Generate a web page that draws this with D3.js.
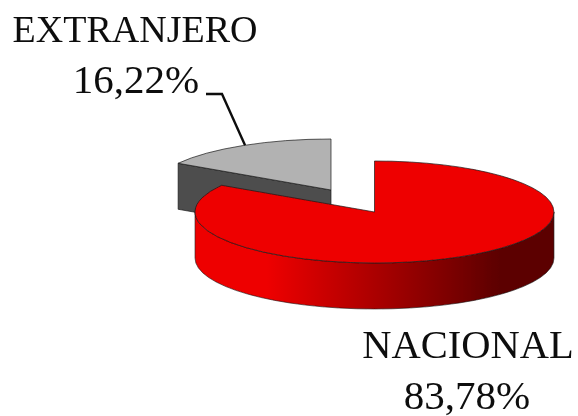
<!DOCTYPE html>
<html><head><meta charset="utf-8">
<script src="https://cdn.jsdelivr.net/npm/d3@7/dist/d3.min.js"></script>
<style>html,body{margin:0;padding:0;background:#fff}svg{display:block}
text{font-family:"Liberation Serif",serif;fill:#111}</style></head>
<body><div id="c"></div>
<script>
const categories = ["NACIONAL", "EXTRANJERO"];
const values = [83.78, 16.22];
const valueLabels = ["83,78%", "16,22%"];
const colors = ["#ee0000", "#b2b2b2"];
const wallColors = ["#ee0000", "#4d4d4d"];

const W = 578, H = 416;
const rx = 179.5, ry = 51, depth = 46;
const centers = [[374.5, 212], [331, 190]];

const svg = d3.select("#c").append("svg").attr("width", W).attr("height", H);
const defs = svg.append("defs");
defs.append("filter").attr("id", "soft").attr("x", "-5%").attr("y", "-5%").attr("width", "110%").attr("height", "110%")
  .append("feGaussianBlur").attr("stdDeviation", 0.45);
const grad = defs.append("linearGradient").attr("id", "side");
[[0, "#ee0000"], [0.2, "#ee0000"], [0.55, "#a00000"], [0.85, "#5c0000"], [1, "#5c0000"]]
  .forEach(([o, c]) => grad.append("stop").attr("offset", o).attr("stop-color", c));

const root = svg.append("g").attr("filter", "url(#soft)");

// clockwise from 12 o'clock, NACIONAL first
const arcs = d3.pie().sort(null).value(d => d)(values);
const pt = (i, a, dy = 0) => [centers[i][0] + rx * Math.sin(a), centers[i][1] - ry * Math.cos(a) + dy];
const A = (a, b) => `A${rx},${ry} 0 ${Math.abs(b - a) > Math.PI ? 1 : 0} ${b > a ? 1 : 0} `;

const line = "#1a1a1a";

// EXTRANJERO: cut wall, then top
{
  const d = arcs[1], c = centers[1];
  const tip = pt(1, d.startAngle);
  root.append("path")
    .attr("d", `M${tip}L${c}L${c[0]},${c[1] + depth}L${tip[0]},${tip[1] + depth}Z`)
    .attr("fill", wallColors[1]).attr("stroke", line).attr("stroke-width", 0.7);
  root.append("path")
    .attr("d", `M${c}L${tip}${A(d.startAngle, d.endAngle)}${pt(1, d.endAngle)}Z`)
    .attr("fill", colors[1]).attr("stroke", line).attr("stroke-width", 0.7);
}

// NACIONAL: outer wall (front half), then top
{
  const d = arcs[0], c = centers[0];
  const a0 = Math.PI / 2, a1 = 3 * Math.PI / 2;
  root.append("path")
    .attr("d", `M${pt(0, a0)}${A(a0, a1)}${pt(0, a1)}L${pt(0, a1, depth)}${A(a1, a0)}${pt(0, a0, depth)}Z`)
    .attr("fill", "url(#side)").attr("stroke", line).attr("stroke-width", 0.6);
  const mid = d.startAngle + Math.PI;
  root.append("path")
    .attr("d", `M${c}L${pt(0, d.startAngle)}${A(d.startAngle, mid)}${pt(0, mid)}${A(mid, d.endAngle)}${pt(0, d.endAngle)}Z`)
    .attr("fill", colors[0]).attr("stroke", line).attr("stroke-width", 0.7);
}

// Leader line for EXTRANJERO
const leadEnd = pt(1, arcs[1].startAngle + (arcs[1].endAngle - arcs[1].startAngle) * 0.51);
root.append("path")
  .attr("d", `M206,94H222L${leadEnd}`)
  .attr("fill", "none").attr("stroke", "#111").attr("stroke-width", 2.4);

// Labels
const labels = [
  { i: 1, name: [135, 42, 38], val: [136, 93, 41] },
  { i: 0, name: [468, 358, 40.5], val: [467, 409, 41] }
];
labels.forEach(l => {
  root.append("text").attr("x", l.name[0]).attr("y", l.name[1]).attr("text-anchor", "middle")
    .attr("font-size", l.name[2]).text(categories[l.i]);
  root.append("text").attr("x", l.val[0]).attr("y", l.val[1]).attr("text-anchor", "middle")
    .attr("font-size", l.val[2]).text(valueLabels[l.i]);
});
</script></body></html>
